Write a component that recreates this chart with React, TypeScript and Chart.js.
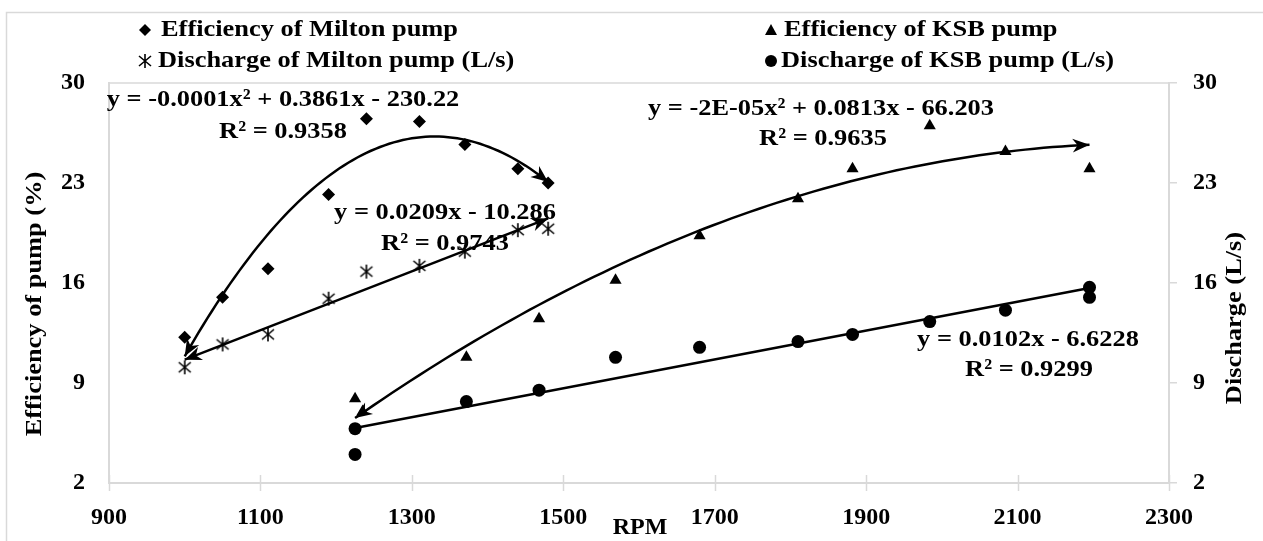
import React, { useEffect, useRef } from "react";
import { Chart, registerables } from "chart.js";

Chart.register(...registerables);

// ---- data ----
const xTicks = [900, 1100, 1300, 1500, 1700, 1900, 2100, 2300];
const yTicks = [2, 9, 16, 23, 30];

const miltonRpm = [1000, 1050, 1110, 1190, 1240, 1310, 1370, 1440, 1480];
const miltonEff = [12.2, 15.0, 17.0, 22.2, 27.5, 27.3, 25.7, 24.0, 23.0];
const miltonDis = [10.1, 11.7, 12.4, 14.9, 16.8, 17.2, 18.2, 19.7, 19.8];

const ksbEffRpm = [1225, 1235, 1372, 1468, 1569, 1680, 1810, 1882, 1984, 2084, 2195];
const ksbEff = [7.9, 7.0, 10.8, 13.5, 16.2, 19.3, 21.9, 24.0, 27.0, 25.2, 24.0];
const ksbDisRpm = [1225, 1225, 1372, 1468, 1569, 1680, 1810, 1882, 1984, 2084, 2195, 2195];
const ksbDis = [5.8, 4.0, 7.7, 8.5, 10.8, 11.5, 11.9, 12.4, 13.3, 14.1, 15.7, 15.0];

const legendLabels = [
  "Efficiency of Milton pump",
  "Discharge of Milton pump (L/s)",
  "Efficiency of KSB pump",
  "Discharge of KSB pump (L/s)",
];
const equationLabels = [
  ["y = -0.0001x² + 0.3861x - 230.22", "R² = 0.9358"],
  ["y = 0.0209x - 10.286", "R² = 0.9743"],
  ["y = -2E-05x² + 0.0813x - 66.203", "R² = 0.9635"],
  ["y = 0.0102x - 6.6228", "R² = 0.9299"],
];

const FONT = '"Liberation Serif", "Times New Roman", serif';
const GRAY = "#d9d9d9";

// least squares polynomial fit (degree 1 or 2), like a spreadsheet trendline
function polyfit(xs: number[], ys: number[], deg: number): number[] {
  const n = deg + 1;
  const A: number[][] = [];
  for (let i = 0; i < n; i++) {
    A.push(new Array(n + 1).fill(0));
  }
  for (let k = 0; k < xs.length; k++) {
    for (let i = 0; i < n; i++) {
      for (let j = 0; j < n; j++) A[i][j] += Math.pow(xs[k], i + j);
      A[i][n] += ys[k] * Math.pow(xs[k], i);
    }
  }
  for (let i = 0; i < n; i++) {
    let p = i;
    for (let r = i + 1; r < n; r++) if (Math.abs(A[r][i]) > Math.abs(A[p][i])) p = r;
    [A[i], A[p]] = [A[p], A[i]];
    for (let r = 0; r < n; r++) {
      if (r === i) continue;
      const f = A[r][i] / A[i][i];
      for (let c = i; c <= n; c++) A[r][c] -= f * A[i][c];
    }
  }
  return A.map((row, i) => row[n] / row[i]);
}

function trend(xs: number[], ys: number[], deg: number) {
  const c = polyfit(xs, ys, deg);
  const lo = Math.min(...xs);
  const hi = Math.max(...xs);
  const pts: { x: number; y: number }[] = [];
  const steps = deg === 1 ? 1 : 80;
  for (let i = 0; i <= steps; i++) {
    const x = lo + ((hi - lo) * i) / steps;
    let y = 0;
    for (let k = 0; k < c.length; k++) y += c[k] * Math.pow(x, k);
    pts.push({ x, y });
  }
  return pts;
}

function makeAsterisk(): HTMLCanvasElement {
  const c = document.createElement("canvas");
  c.width = 16;
  c.height = 16;
  const g = c.getContext("2d")!;
  g.strokeStyle = "#000";
  g.lineWidth = 1.6;
  g.beginPath();
  g.moveTo(8, 1);
  g.lineTo(8, 15);
  g.moveTo(2, 3);
  g.lineTo(14, 13);
  g.moveTo(14, 3);
  g.lineTo(2, 13);
  g.stroke();
  return c;
}

function drawText(
  ctx: CanvasRenderingContext2D,
  text: string,
  x: number,
  y: number,
  opts: { size?: number; sx?: number; rotate?: number; align?: CanvasTextAlign } = {}
) {
  ctx.save();
  ctx.translate(x, y);
  if (opts.rotate) ctx.rotate(opts.rotate);
  ctx.scale(opts.sx ?? 1.1, 1);
  ctx.font = `bold ${opts.size ?? 24}px ${FONT}`;
  ctx.textAlign = opts.align ?? "center";
  ctx.textBaseline = "middle";
  ctx.fillStyle = "#000";
  ctx.fillText(text, 0, 0);
  ctx.restore();
}

function drawMarker(ctx: CanvasRenderingContext2D, kind: string, x: number, y: number) {
  ctx.save();
  ctx.fillStyle = "#000";
  ctx.strokeStyle = "#000";
  ctx.beginPath();
  if (kind === "diamond") {
    ctx.moveTo(x, y - 6);
    ctx.lineTo(x + 6, y);
    ctx.lineTo(x, y + 6);
    ctx.lineTo(x - 6, y);
    ctx.closePath();
    ctx.fill();
  } else if (kind === "triangle") {
    ctx.moveTo(x, y - 6);
    ctx.lineTo(x + 6, y + 5);
    ctx.lineTo(x - 6, y + 5);
    ctx.closePath();
    ctx.fill();
  } else if (kind === "circle") {
    ctx.arc(x, y, 6, 0, Math.PI * 2);
    ctx.fill();
  } else {
    ctx.lineWidth = 1.6;
    ctx.moveTo(x, y - 7);
    ctx.lineTo(x, y + 7);
    ctx.moveTo(x - 6, y - 5);
    ctx.lineTo(x + 6, y + 5);
    ctx.moveTo(x + 6, y - 5);
    ctx.lineTo(x - 6, y + 5);
    ctx.stroke();
  }
  ctx.restore();
}

function arrowHead(ctx: CanvasRenderingContext2D, tx: number, ty: number, fx: number, fy: number) {
  const a = Math.atan2(ty - fy, tx - fx);
  const len = 17;
  const w = 7;
  ctx.save();
  ctx.translate(tx, ty);
  ctx.rotate(a);
  ctx.fillStyle = "#000";
  ctx.beginPath();
  ctx.moveTo(0, 0);
  ctx.lineTo(-len, -w);
  ctx.lineTo(-len * 0.7, 0);
  ctx.lineTo(-len, w);
  ctx.closePath();
  ctx.fill();
  ctx.restore();
}

export default function App() {
  const ref = useRef<HTMLCanvasElement | null>(null);

  useEffect(() => {
    if (!ref.current) return;
    const asterisk = makeAsterisk();

    const tMiltonEff = trend(miltonRpm, miltonEff, 2);
    const tMiltonDis = trend(miltonRpm, miltonDis, 1);
    const tKsbEff = trend(ksbEffRpm, ksbEff, 2);
    const tKsbDis = trend(ksbDisRpm, ksbDis, 1);

    const zip = (xs: number[], ys: number[]) => xs.map((x, i) => ({ x, y: ys[i] }));

    const overlay = {
      id: "overlay",
      beforeDraw(chart: any) {
        const ctx = chart.ctx as CanvasRenderingContext2D;
        ctx.save();
        ctx.fillStyle = "#fff";
        ctx.fillRect(0, 0, chart.width, chart.height);
        ctx.strokeStyle = GRAY;
        ctx.lineWidth = 1.5;
        ctx.strokeRect(6.5, 12.5, chart.width - 4, chart.height - 8);
        const a = chart.chartArea;
        ctx.beginPath();
        ctx.moveTo(a.left, a.top);
        ctx.lineTo(a.right, a.top);
        ctx.stroke();
        const xs = chart.scales.x;
        ctx.lineWidth = 1.5;
        ctx.beginPath();
        for (const v of xTicks) {
          const px = Math.round(xs.getPixelForValue(v)) + 0.5;
          ctx.moveTo(px, a.bottom - 8);
          ctx.lineTo(px, a.bottom + 8);
        }
        ctx.stroke();
        ctx.restore();
      },
      afterDatasetsDraw(chart: any) {
        const ctx = chart.ctx as CanvasRenderingContext2D;
        const xs = chart.scales.x;
        const ys = chart.scales.y;
        const px = (p: { x: number; y: number }) => [xs.getPixelForValue(p.x), ys.getPixelForValue(p.y)];
        const ends = (pts: { x: number; y: number }[], start: boolean, end: boolean) => {
          if (start) {
            const [tx, ty] = px(pts[0]);
            const [fx, fy] = px(pts[1]);
            arrowHead(ctx, tx, ty, fx, fy);
          }
          if (end) {
            const [tx, ty] = px(pts[pts.length - 1]);
            const [fx, fy] = px(pts[pts.length - 2]);
            arrowHead(ctx, tx, ty, fx, fy);
          }
        };
        ends(tMiltonEff, true, true);
        ends(tMiltonDis, true, true);
        ends(tKsbEff, true, true);

        // equations
        drawText(ctx, equationLabels[0][0], 283, 100);
        drawText(ctx, equationLabels[0][1], 283, 132);
        drawText(ctx, equationLabels[1][0], 445, 213);
        drawText(ctx, equationLabels[1][1], 445, 244);
        drawText(ctx, equationLabels[2][0], 821, 109);
        drawText(ctx, equationLabels[2][1], 823, 139);
        drawText(ctx, equationLabels[3][0], 1028, 340);
        drawText(ctx, equationLabels[3][1], 1029, 370);

        // legend
        drawMarker(ctx, "diamond", 145, 30);
        drawText(ctx, legendLabels[0], 161, 30, { align: "left" });
        drawMarker(ctx, "asterisk", 145, 61);
        drawText(ctx, legendLabels[1], 158, 61, { align: "left" });
        drawMarker(ctx, "triangle", 771, 30);
        drawText(ctx, legendLabels[2], 784, 30, { align: "left" });
        drawMarker(ctx, "circle", 771, 61);
        drawText(ctx, legendLabels[3], 781, 61, { align: "left" });

        // axis titles
        drawText(ctx, "RPM", 640, 528, { sx: 1.0, size: 24 });
        drawText(ctx, "Efficiency of pump (%)", 35, 304, { rotate: -Math.PI / 2, sx: 1.1 });
        drawText(ctx, "Discharge (L/s)", 1235, 318, { rotate: -Math.PI / 2, sx: 1.1 });
      },
    };

    const lineDs = (data: any[], axis: string) => ({
      type: "scatter" as const,
      data,
      yAxisID: axis,
      showLine: true,
      borderColor: "#000",
      borderWidth: 2.5,
      pointRadius: 0,
      tension: 0,
      order: 2,
    });

    const tickFont = { family: FONT, size: 24, weight: "bold" as const };
    const plain = (v: any) => String(v);

    const chart = new Chart(ref.current, {
      type: "scatter",
      data: {
        datasets: [
          lineDs(tMiltonEff, "y"),
          lineDs(tMiltonDis, "y2"),
          lineDs(tKsbEff, "y"),
          lineDs(tKsbDis, "y2"),
          {
            label: legendLabels[0],
            data: zip(miltonRpm, miltonEff),
            yAxisID: "y",
            pointStyle: "rectRot",
            pointRadius: 6.5,
            backgroundColor: "#000",
            borderColor: "#000",
            borderWidth: 0,
            order: 1,
          },
          {
            label: legendLabels[1],
            data: zip(miltonRpm, miltonDis),
            yAxisID: "y2",
            pointStyle: asterisk as any,
            pointRadius: 8,
            backgroundColor: "#000",
            borderColor: "#000",
            order: 1,
          },
          {
            label: legendLabels[2],
            data: zip(ksbEffRpm, ksbEff),
            yAxisID: "y",
            pointStyle: "triangle",
            pointRadius: 7,
            backgroundColor: "#000",
            borderColor: "#000",
            borderWidth: 0,
            order: 1,
          },
          {
            label: legendLabels[3],
            data: zip(ksbDisRpm, ksbDis),
            yAxisID: "y2",
            pointStyle: "circle",
            pointRadius: 6.5,
            backgroundColor: "#000",
            borderColor: "#000",
            borderWidth: 0,
            order: 1,
          },
        ] as any,
      },
      options: {
        animation: false,
        responsive: true,
        maintainAspectRatio: false,
        layout: { padding: { top: 83, left: 0, right: 0, bottom: 0 } },
        plugins: { legend: { display: false }, tooltip: { enabled: false } },
        scales: {
          x: {
            type: "linear",
            position: "bottom",
            min: 900,
            max: 2300,
            afterBuildTicks: (s: any) => {
              s.ticks = xTicks.map((v) => ({ value: v }));
            },
            afterFit: (s: any) => {
              s.height = 58;
            },
            grid: { display: false, drawTicks: false },
            border: { display: true, color: GRAY, width: 2 },
            ticks: { autoSkip: false, maxRotation: 0, padding: 20, color: "#000", font: tickFont, callback: plain },
          },
          y: {
            type: "linear",
            position: "left",
            min: 2,
            max: 30,
            afterBuildTicks: (s: any) => {
              s.ticks = yTicks.map((v) => ({ value: v }));
            },
            afterFit: (s: any) => {
              s.width = 109;
            },
            grid: { display: false, drawTicks: false },
            border: { display: true, color: GRAY, width: 2 },
            ticks: { padding: 24, color: "#000", font: tickFont, callback: plain },
          },
          y2: {
            type: "linear",
            position: "right",
            min: 2,
            max: 30,
            afterBuildTicks: (s: any) => {
              s.ticks = yTicks.map((v) => ({ value: v }));
            },
            afterFit: (s: any) => {
              s.width = 94;
            },
            grid: { display: true, drawOnChartArea: false, drawTicks: true, tickLength: 8, color: GRAY, lineWidth: 1.5 },
            border: { display: true, color: GRAY, width: 2 },
            ticks: { padding: 16, color: "#000", font: tickFont, callback: plain },
          },
        },
      } as any,
      plugins: [overlay],
    });

    return () => chart.destroy();
  }, []);

  return (
    <div style={{ position: "fixed", left: 0, top: 0, width: 1263, height: 541, background: "#fff" }}>
      <canvas ref={ref} />
    </div>
  );
}
